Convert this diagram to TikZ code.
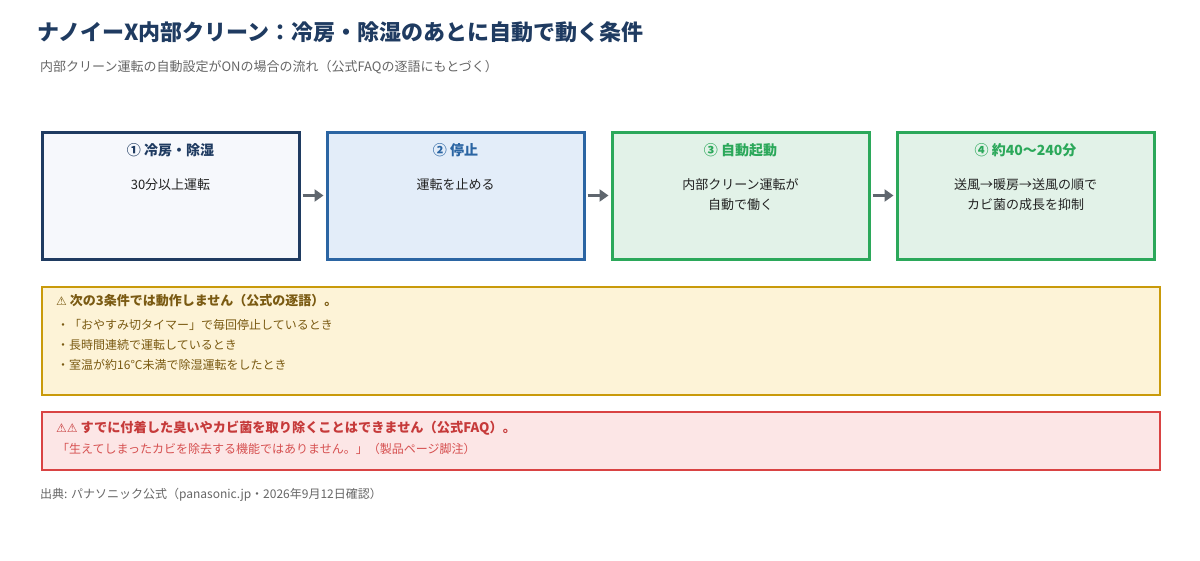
\documentclass[tikz,border=0pt]{standalone}
\usepackage{fontspec}
\setmainfont{Noto Sans CJK JP}
\newfontfamily\symfont{DejaVu Sans}
\usetikzlibrary{arrows.meta}
\definecolor{navy}{HTML}{1F3B61}
\definecolor{fillA}{HTML}{F6F8FC}
\definecolor{blueB}{HTML}{2B65A3}
\definecolor{fillB}{HTML}{E3EDF9}
\definecolor{greenC}{HTML}{2BA85A}
\definecolor{fillC}{HTML}{E2F2E8}
\definecolor{goldD}{HTML}{C99A0A}
\definecolor{fillD}{HTML}{FDF3D7}
\definecolor{brownD}{HTML}{7A5A12}
\definecolor{redE}{HTML}{D94343}
\definecolor{fillE}{HTML}{FCE6E6}
\definecolor{redT}{HTML}{C63A3A}
\definecolor{redL}{HTML}{D65050}
\definecolor{grayT}{HTML}{666666}
\definecolor{arrC}{HTML}{5F666E}
\definecolor{bodyT}{HTML}{222222}
\tikzset{
  flowbox/.style={draw, line width=3pt, minimum width=257pt, minimum height=127pt, inner sep=0pt},
  boxttl/.style={font=\fontsize{14}{16}\selectfont\bfseries, inner sep=0pt},
  boxbody/.style={font=\fontsize{13}{20}\selectfont, text=bodyT, align=center, inner sep=0pt},
  flowarr/.style={draw=arrC, line width=3pt, -{Triangle[length=9pt,width=12pt]}, shorten <=2pt, shorten >=2pt},
  notebox/.style={draw, line width=2pt, inner sep=0pt},
  lefttxt/.style={anchor=west, inner sep=0pt},
  smalltxt/.style={font=\fontsize{12}{14}\selectfont},
}
\begin{document}
\begin{tikzpicture}[x=1pt,y=-1pt]
\useasboundingbox[fill=white] (0,0) rectangle (1200,560);
% title
\node[lefttxt, text=navy, font=\fontsize{22}{25}\selectfont\bfseries] (title) at (37,32) {ナノイーX内部クリーン：冷房・除湿のあとに自動で動く条件};
\node[lefttxt, text=grayT, font=\fontsize{13}{15}\selectfont] (sub) at (40,67) {内部クリーン運転の自動設定がONの場合の流れ（公式FAQの逐語にもとづく）};
% boxes
\node[flowbox, draw=navy, fill=fillA] (b1) at (170.5,195.5) {};
\node[flowbox, draw=blueB, fill=fillB] (b2) at (455.5,195.5) {};
\node[flowbox, draw=greenC, fill=fillC] (b3) at (740.5,195.5) {};
\node[flowbox, draw=greenC, fill=fillC] (b4) at (1025.5,195.5) {};
\node[boxttl, text=navy] (t1) at (170.5,150) {① 冷房・除湿};
\node[boxttl, text=blueB] (t2) at (455.5,150) {② 停止};
\node[boxttl, text=greenC] (t3) at (740.5,150) {③ 自動起動};
\node[boxttl, text=greenC] (t4) at (1025.5,150) {④ 約40〜240分};
\node[boxbody] (d1) at (170.5,185) {30分以上運転};
\node[boxbody] (d2) at (455.5,185) {運転を止める};
\node[boxbody] (d3) at (740.5,195) {内部クリーン運転が\\自動で働く};
\node[boxbody] (d4) at (1025.5,195) {送風→暖房→送風の順で\\カビ菌の成長を抑制};
\draw[flowarr] (b1.east) -- (b2.west);
\draw[flowarr] (b2.east) -- (b3.west);
\draw[flowarr] (b3.east) -- (b4.west);
% yellow note
\node[notebox, draw=goldD, fill=fillD, minimum width=1118pt, minimum height=108pt] (n1) at (600.5,340.5) {};
\node[lefttxt, text=brownD, font=\fontsize{13}{15}\selectfont\bfseries] (n1t) at (56,301) {{\symfont\fontsize{12}{14}\selectfont ⚠} 次の3条件では動作しません（公式の逐語）。};
\node[lefttxt, smalltxt, text=brownD] (n1a) at (57,325) {・「おやすみ切タイマー」で毎回停止しているとき};
\node[lefttxt, smalltxt, text=brownD] (n1b) at (57,345) {・長時間連続で運転しているとき};
\node[lefttxt, smalltxt, text=brownD] (n1c) at (57,365) {・室温が約16°C未満で除湿運転をしたとき};
% red note
\node[notebox, draw=redE, fill=fillE, minimum width=1118pt, minimum height=58pt] (n2) at (600.5,440.5) {};
\node[lefttxt, text=redT, font=\fontsize{13.2}{15}\selectfont\bfseries] (n2t) at (56,428) {{\symfont\fontsize{12}{14}\selectfont ⚠⚠} すでに付着した臭いやカビ菌を取り除くことはできません（公式FAQ）。};
\node[lefttxt, smalltxt, text=redL] (n2a) at (57,449) {「生えてしまったカビを除去する機能ではありません。」（製品ページ脚注）};
% footer
\node[lefttxt, smalltxt, text=grayT] (foot) at (40,495) {出典: パナソニック公式（panasonic.jp・2026年9月12日確認）};
\end{tikzpicture}
\end{document}
